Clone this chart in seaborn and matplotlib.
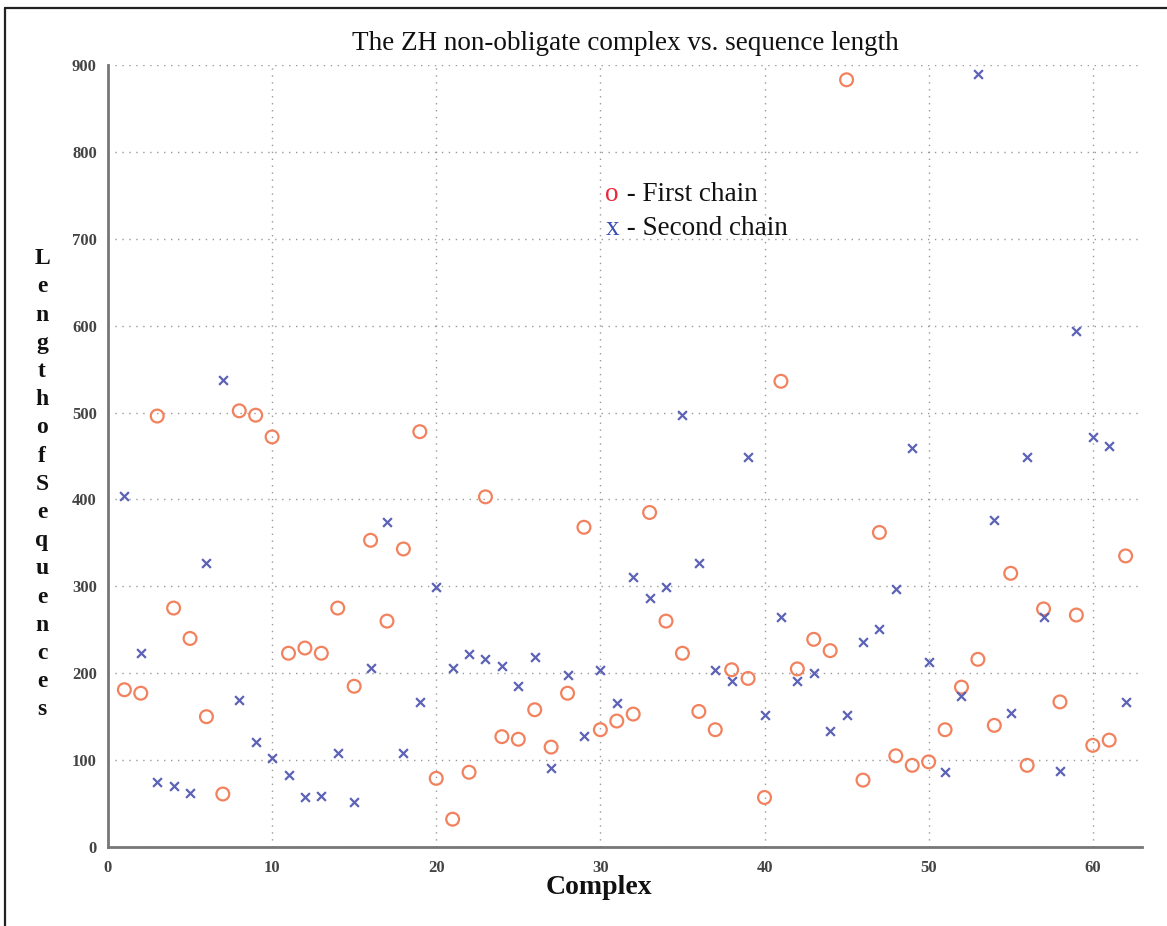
import matplotlib
matplotlib.use("Agg")
import matplotlib.pyplot as plt
import seaborn as sns
import pandas as pd
from matplotlib.lines import Line2D

complex_ids = list(range(1, 63))
first_chain = [181, 177, 496, 275, 240, 150, 61, 502, 497, 472,
               223, 229, 223, 275, 185, 353, 260, 343, 478, 79,
               32, 86, 403, 127, 124, 158, 115, 177, 368, 135,
               145, 153, 385, 260, 223, 156, 135, 204, 194, 57,
               536, 205, 239, 226, 883, 77, 362, 105, 94, 98,
               135, 184, 216, 140, 315, 94, 274, 167, 267, 117,
               123, 335]
second_chain = [404, 223, 75, 70, 62, 327, 537, 169, 121, 102,
                83, 57, 59, 108, 52, 206, 374, 108, 167, 299,
                206, 222, 216, 208, 185, 219, 91, 198, 128, 204,
                166, 311, 287, 299, 497, 327, 204, 191, 449, 152,
                265, 191, 200, 133, 152, 236, 251, 297, 459, 213,
                86, 174, 890, 376, 154, 449, 265, 87, 594, 472,
                461, 167]
x_ticks = [0, 10, 20, 30, 40, 50, 60]
y_ticks = [0, 100, 200, 300, 400, 500, 600, 700, 800, 900]

df1 = pd.DataFrame({"Complex": complex_ids, "Length": first_chain})
df2 = pd.DataFrame({"Complex": complex_ids, "Length": second_chain})

sns.set_style("white")
plt.rcParams["font.family"] = ["Liberation Serif", "DejaVu Serif"]

orange = "#F2825E"
blue = "#5C62B5"

fig = plt.figure(figsize=(11.67, 9.26), dpi=100)
ax = fig.add_axes([0.0925, 0.0853, 0.8861, 0.8445])

sns.scatterplot(data=df1, x="Complex", y="Length", ax=ax, marker="o",
                s=85, facecolor="none", edgecolor=orange, linewidth=1.6, zorder=3)
sns.scatterplot(data=df2, x="Complex", y="Length", ax=ax, marker="x",
                s=40, color=blue, linewidth=1.6, zorder=3)

ax.set_xlim(0, 63)
ax.set_ylim(0, 900)
ax.set_xticks(x_ticks)
ax.set_yticks(y_ticks)
ax.grid(True, linestyle=(0, (1, 4)), color="#999999", linewidth=1.0)
for s in ["top", "right"]:
    ax.spines[s].set_visible(False)
for s in ["left", "bottom"]:
    ax.spines[s].set_color("#777777")
    ax.spines[s].set_linewidth(2)
ax.tick_params(direction="in", length=6, width=2, color="#777777",
               labelsize=12, labelcolor="#444444")
ax.tick_params(axis="x", pad=9)
ax.tick_params(axis="y", pad=8)
for lbl in ax.get_xticklabels() + ax.get_yticklabels():
    lbl.set_fontweight("bold")

ax.set_title("The ZH non-obligate complex vs. sequence length", fontsize=19.5,
             pad=11, color="#111111")
ax.set_xlabel("")
ax.set_ylabel("")
fig.text(599 / 1167, 1 - 888 / 926, "Complex", ha="center", va="center",
         fontsize=20, fontweight="bold", color="#111111")

letters = list("LengthofSequences")
fig.text(0.036, 0.477, "\n".join(letters), ha="center", va="center",
         fontsize=17, fontweight="bold", linespacing=1.45, color="#111111")

ax.text(30.3, 751, "o", color="#E8283C", fontsize=19.5, va="center", ha="left")
ax.text(31.2, 751, " - First chain", color="#111111", fontsize=19.5, va="center", ha="left")
ax.text(30.3, 712, "x", color="#3A4FB0", fontsize=19.5, va="center", ha="left")
ax.text(31.2, 712, " - Second chain", color="#111111", fontsize=19.5, va="center", ha="left")

fig.lines.append(Line2D([0.0045, 1.0], [0.9915, 0.9915], transform=fig.transFigure,
                        color="#222222", linewidth=1.6))
fig.lines.append(Line2D([0.0045, 0.0045], [0.0, 0.9915], transform=fig.transFigure,
                        color="#222222", linewidth=1.6))

fig.savefig("out.png", dpi=100)
